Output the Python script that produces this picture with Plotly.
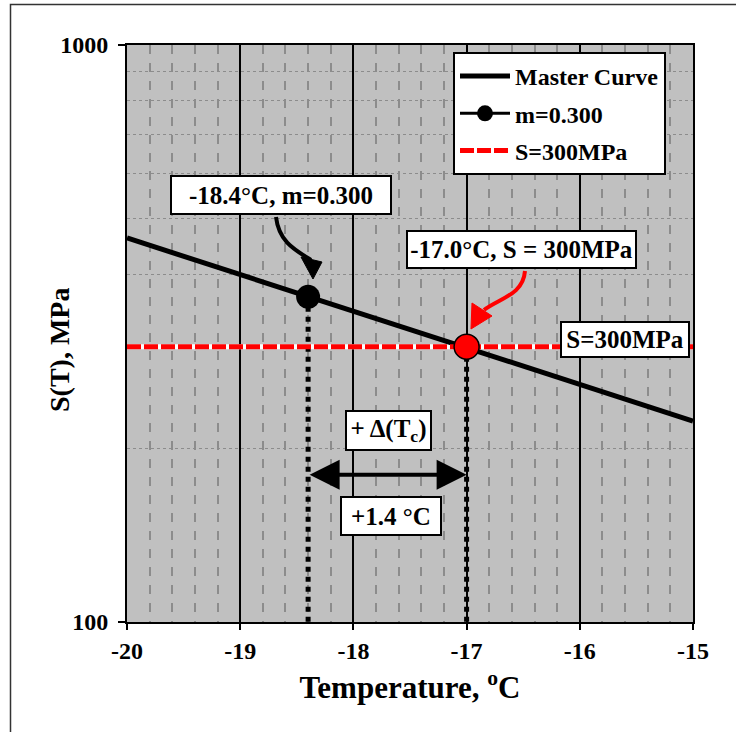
import math
import plotly.graph_objects as go

# ---- data ----
curve_T = [-20.0, -15.0]
curve_S = [463.0, 223.0]
m_T = [-18.4]
m_S = [366.0]
s_T = [-17.0]
s_S = [300.0]
line_T = [-20.0, -15.0]
line_S = [300.0, 300.0]
arrow_S = 180.0
x_ticks = [-20, -19, -18, -17, -16, -15]
y_ticks = [100, 1000]

FONT = "Liberation Serif"
L, R, T, B = 127, 43, 45, 110
W, H = 736, 732
PW, PH = W - L - R, H - T - B


def px(x):
    return (x - L) / PW


def py(y):
    return 1 - (y - T) / PH


def path(cmds):
    out = []
    for c in cmds:
        if isinstance(c, str):
            out.append(c)
        else:
            out.append(f"{px(c[0]):.5f},{py(c[1]):.5f}")
    return " ".join(out)


fig = go.Figure()

# white underlay for S=300 line
fig.add_trace(go.Scatter(x=line_T, y=line_S, mode="lines",
                         line=dict(color="white", width=5), showlegend=False, hoverinfo="skip"))
# dotted verticals
fig.add_trace(go.Scatter(x=[m_T[0], m_T[0]], y=[m_S[0], 100], mode="lines",
                         line=dict(color="black", width=5, dash="dot"), showlegend=False))
fig.add_trace(go.Scatter(x=[s_T[0], s_T[0]], y=[s_S[0], 100], mode="lines",
                         line=dict(color="black", width=5, dash="dot"), showlegend=False))
fig.add_trace(go.Scatter(x=curve_T, y=curve_S, mode="lines", name="Master Curve",
                         legendgroup="a", line=dict(color="black", width=5)))
fig.add_trace(go.Scatter(x=m_T, y=m_S, mode="lines+markers", name="m=0.300",
                         legendgroup="b", line=dict(color="black", width=3),
                         marker=dict(color="black", size=24)))
fig.add_trace(go.Scatter(x=line_T, y=line_S, mode="lines", name="S=300MPa",
                         legendgroup="c", line=dict(color="#ff0000", width=5, dash="14px,3px")))
fig.add_trace(go.Scatter(x=s_T, y=s_S, mode="markers", showlegend=False,
                         marker=dict(color="#ff0000", size=25, line=dict(color="black", width=1.5))))

ann_font = dict(family=FONT, size=25, color="black")


def box(text, x, y, w, h):
    fig.add_annotation(text=f"<b>{text}</b>", xref="paper", yref="paper",
                       x=px(x), y=py(y), showarrow=False, bgcolor="white",
                       bordercolor="black", borderwidth=2, borderpad=0,
                       width=w, height=h, font=ann_font, xanchor="center", yanchor="middle")


box("-18.4°C, m=0.300", 281, 195, 218, 36)
box("-17.0°C, S = 300MPa", 521, 249, 227, 35)
box("S=300MPa", 625, 339, 126, 33)
box("+ Δ(T<sub>c</sub>)", 388, 430, 83, 37)
box("+1.4 °C", 391, 516, 98, 36)

# y-axis title
fig.add_annotation(text="<b>S(T), MPa</b>", xref="paper", yref="paper", x=px(59), y=py(350),
                   textangle=-90, showarrow=False, xanchor="center", yanchor="middle",
                   font=dict(family=FONT, size=28, color="black"))

# double-headed arrow
fig.add_annotation(x=s_T[0], y=math.log10(arrow_S), ax=m_T[0], ay=math.log10(arrow_S),
                   xref="x", yref="y", axref="x", ayref="y", text="", showarrow=True,
                   arrowhead=2, startarrowhead=2, arrowside="end+start", arrowwidth=4,
                   arrowsize=1.5, startarrowsize=1.5, arrowcolor="black")

shapes = []
# curved black arrow
shapes.append(dict(type="path", xref="paper", yref="paper",
                   path=path(["M", (276, 217), "C", (279, 242), (295, 250), (311, 260)]),
                   line=dict(color="black", width=4)))
shapes.append(dict(type="path", xref="paper", yref="paper",
                   path=path(["M", (301, 257), "L", (322, 262), "L", (313, 279), "Z"]),
                   fillcolor="black", line=dict(color="black", width=1)))
# curved red arrow
shapes.append(dict(type="path", xref="paper", yref="paper",
                   path=path(["M", (525, 271), "C", (523, 295), (500, 298), (484, 310)]),
                   line=dict(color="#ff0000", width=4)))
shapes.append(dict(type="path", xref="paper", yref="paper",
                   path=path(["M", (472, 303), "L", (492, 316), "L", (471, 329), "Z"]),
                   fillcolor="#ff0000", line=dict(color="#ff0000", width=1)))
# outer frame
shapes.append(dict(type="rect", xref="paper", yref="paper",
                   x0=px(10.5), x1=px(760), y0=py(760), y1=py(4.5),
                   line=dict(color="#333", width=1.5), layer="below"))

fig.update_layout(
    width=W, height=H,
    margin=dict(l=L, r=R, t=T, b=B),
    paper_bgcolor="white", plot_bgcolor="#c0c0c0",
    font=dict(family=FONT, color="black"),
    shapes=shapes,
    legend=dict(x=px(453), y=py(52), xanchor="left", yanchor="top",
                bgcolor="white", bordercolor="black", borderwidth=2,
                font=dict(family=FONT, size=24, color="black"),
                tracegroupgap=3, itemwidth=50),
    showlegend=True,
)
for tr in fig.data:
    if tr.name:
        tr.name = f"<b>{tr.name}</b>"

fig.update_xaxes(range=[-20, -15], tickvals=x_ticks, ticktext=[f"<b>{v}</b>" for v in x_ticks],
                 showgrid=True, gridcolor="black", gridwidth=1.5,
                 minor=dict(dtick=0.2, showgrid=True, gridcolor="#8c8c8c", griddash="dash",
                            gridwidth=2, ticks=""),
                 ticks="outside", ticklen=6, tickcolor="black", tickwidth=1.5,
                 showline=True, linecolor="black", linewidth=2, mirror=True,
                 zeroline=False, tickfont=dict(family=FONT, size=24),
                 title=dict(text="<b>Temperature, <sup>o</sup>C</b>", font=dict(family=FONT, size=31),
                            standoff=14))
fig.update_yaxes(type="log", range=[2, 3], tickvals=y_ticks, ticktext=[f"<b>{v}</b>" for v in y_ticks],
                 showgrid=False,
                 minor=dict(dtick="D1", showgrid=True, gridcolor="#8c8c8c", griddash="dot",
                            gridwidth=1, ticks=""),
                 ticks="outside", ticklen=7, tickcolor="black", tickwidth=1.5,
                 ticklabelstandoff=5,
                 showline=True, linecolor="black", linewidth=2, mirror=True,
                 zeroline=False, tickfont=dict(family=FONT, size=24))

fig.write_html("out.html", config={"displayModeBar": False},
               post_script="document.body.style.margin='0';document.body.style.overflow='hidden';")
